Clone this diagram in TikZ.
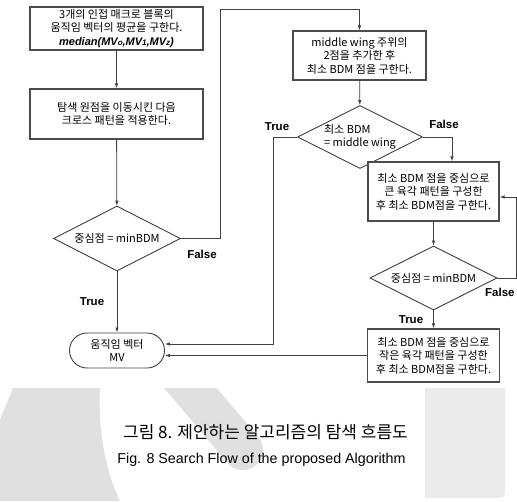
\documentclass[tikz,border=0pt]{standalone}
\usepackage{fontspec}
\setmainfont{Noto Sans CJK KR}
\newfontfamily\labfont{Liberation Sans}
\usetikzlibrary{shapes.geometric,arrows.meta}
\begin{document}
\begin{tikzpicture}[x=1pt,y=-1pt,
  box/.style={draw=black!70,line width=1.1pt,fill=white,align=center,
    font=\fontsize{11}{13.5}\selectfont,inner sep=0pt},
  dia/.style={diamond,draw=black!75,line width=0.9pt,fill=white,align=center,
    font=\fontsize{11}{13.5}\selectfont,inner sep=0pt,aspect=2},
  term/.style={draw=black!75,line width=0.9pt,fill=white,rounded corners=17.5pt,
    minimum width=95pt,minimum height=35pt,align=center,inner sep=0pt,
    font=\fontsize{11}{13}\selectfont},
  conn/.style={draw=black!75,line width=0.8pt},
  arr/.style={conn,-{Latex[length=5pt,width=3.5pt]}},
  lab/.style={font=\labfont\bfseries\fontsize{11.5}{13}\selectfont,inner sep=0pt}
]
\useasboundingbox (0,0) rectangle (517,501);
\fill[white] (0,0) rectangle (517,501);

% watermark
\begin{scope}
  \clip (0,388) rectangle (517,501);
  \fill[black!12] (13,388) -- (100,388) .. controls (98,430) and (105,470) .. (120,501)
     -- (0,501) -- (0,420) -- cycle;
  \draw[black!12,line width=40pt,line cap=round] (175,370) -- (243,450);
\end{scope}
\fill[black!8] (425,388) -- (505,388) -- (505,486) .. controls (505,498) .. (493,498)
   -- (425,498) -- cycle;

% nodes
\node[box,minimum width=173pt,minimum height=43pt] (b1) at (116.5,28.5)
  {3개의 인접 매크로 블록의\\움직임 벡터의 평균을 구한다.\\
   {\labfont\bfseries\itshape median(MV{\footnotesize o},MV{\footnotesize 1},MV{\footnotesize z})}};
\node[box,minimum width=173pt,minimum height=50pt] (b2) at (116.5,114)
  {탐색 원점을 이동시킨 다음\\크로스 패턴을 적용한다.};
\node[dia,minimum width=127pt,minimum height=65pt] (d1) at (117,238.5)
  {중심점 = minBDM};
\node[term] (mv) at (117,350.5) {움직임 벡터\\MV};

\node[box,minimum width=133pt,minimum height=49pt] (b3) at (359.5,55.5)
  {middle wing 주위의\\2점을 추가한 후\\최소 BDM 점을 구한다.};
\node[dia,align=left,minimum width=125pt,minimum height=63pt] (d2) at (360,137)
  {최소 BDM\\= middle wing};
\node[box,minimum width=131pt,minimum height=59pt] (b4) at (433.5,191.5)
  {최소 BDM 점을 중심으로\\큰 육각 패턴을 구성한\\후 최소 BDM점을 구한다.};
\node[dia,minimum width=127pt,minimum height=64pt] (d3) at (433.5,278)
  {중심점 = minBDM};
\node[box,minimum width=132pt,minimum height=53pt] (b5) at (433.5,355.5)
  {최소 BDM 점을 중심으로\\작은 육각 패턴을 구성한\\후 최소 BDM점을 구한다.};

% connectors
\coordinate (c1) at (220,9);
\coordinate (c2) at (452,137);
\coordinate (c3) at (273,344);
\coordinate (c4) at (516,197);
\draw[arr] (b1) -- (b2);
\draw[arr] (b2) -- (d1);
\draw[arr] (d1.east) -| (c1) -| (b3.north);
\draw[arr] (d1) -- (mv);
\draw[arr] (b3) -- (d2);
\draw[arr] (d2.east) -- (c2) -- (c2 |- b4.north);
\draw[arr] (d2.west) -| (c3) -- (c3 -| mv.east);
\draw[arr] (b4) -- (d3);
\draw[arr] (d3.east) -| (c4) -- (c4 -| b4.east);
\draw[arr] (d3) -- (b5);
\draw[arr] (b5.west) -- (b5.west -| mv.east);

% labels
\node[lab] (f1) at (202,254) {False};
\node[lab] (t1) at (92,302) {True};
\node[lab] (t2) at (277,127) {True};
\node[lab] (f2) at (444,124) {False};
\node[lab] (t3) at (411,320) {True};
\node[lab,anchor=west] (f3) at (485,292) {False};

% captions
\node[font=\fontsize{17}{20}\selectfont,inner sep=0pt] (cap1) at (265.5,432)
  {그림 8. 제안하는 알고리즘의 탐색 흐름도};
\node[font=\labfont\fontsize{14.3}{16}\selectfont,inner sep=0pt] (cap2) at (261.5,460)
  {Fig. 8 Search Flow of the proposed Algorithm};
\end{tikzpicture}
\end{document}
